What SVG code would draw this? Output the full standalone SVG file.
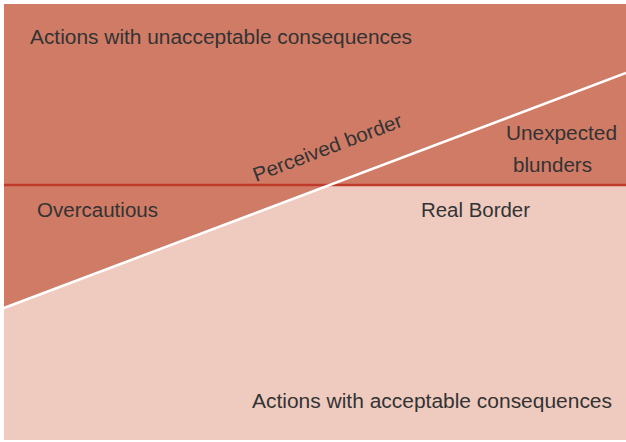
<svg xmlns="http://www.w3.org/2000/svg" width="626" height="442" viewBox="0 0 626 442">
<style>
.t{font-family:"Liberation Sans",Arial,sans-serif;font-size:20px;fill:#333;}
</style>
<rect x="0" y="0" width="626" height="442" fill="#fff"/>
<g id="regions">
<rect x="4" y="4" width="622" height="436" fill="#efcbbf"/>
<polygon points="4,4 626,4 626,185 329,185 4,308" fill="#d07b66"/>
</g>
<g id="lines">
<line x1="4" y1="185" x2="626" y2="185" stroke="#bf3a2b" stroke-width="2.5"/>
<line x1="4" y1="308" x2="626" y2="73" stroke="#fff" stroke-width="2.5"/>
</g>
<g id="labels">
<text class="t" x="30" y="44" textLength="382" lengthAdjust="spacingAndGlyphs">Actions with unacceptable consequences</text>
<text class="t" x="506" y="140" textLength="111" lengthAdjust="spacingAndGlyphs">Unexpected</text>
<text class="t" x="513" y="172" textLength="79" lengthAdjust="spacingAndGlyphs">blunders</text>
<text class="t" x="37" y="217" textLength="121" lengthAdjust="spacingAndGlyphs">Overcautious</text>
<text class="t" x="421" y="217" textLength="109" lengthAdjust="spacingAndGlyphs">Real Border</text>
<text class="t" x="252" y="408" textLength="360" lengthAdjust="spacingAndGlyphs">Actions with acceptable consequences</text>
<text class="t" transform="translate(256,182) rotate(-20.7)" textLength="158" lengthAdjust="spacingAndGlyphs">Perceived border</text>
</g>
</svg>
